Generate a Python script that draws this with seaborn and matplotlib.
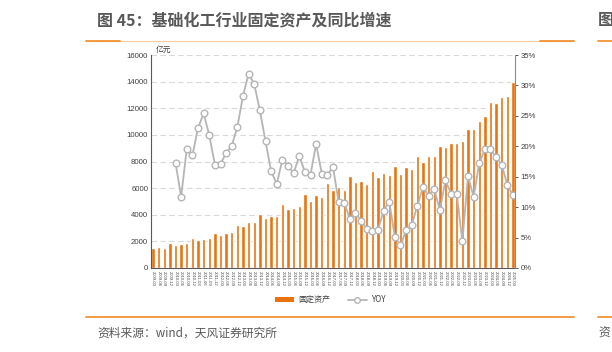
import matplotlib
matplotlib.use("Agg")
import numpy as np
import pandas as pd
import seaborn as sns
import matplotlib.pyplot as plt
from matplotlib.lines import Line2D
from matplotlib.patches import Patch

# ---------------- data ----------------
quarters = [f"{y}-{m:02d}" for y in range(2009, 2026) for m in (3, 6, 9, 12)][:65]

assets = [1475, 1575, 1525, 1900, 1700, 1775, 1850, 2275, 2075, 2200,
          2250, 2650, 2450, 2600, 2700, 3250, 3125, 3425, 3450, 4075,
          3775, 3925, 3925, 4775, 4400, 4525, 4675, 5575, 5050, 5475,
          5350, 6375, 5850, 6050, 5875, 6900, 6425, 6525, 6300, 7300,
          6825, 7100, 6975, 7625, 7025, 7550, 7450, 8400, 7950, 8400,
          8400, 9200, 9100, 9425, 9425, 9575, 10450, 10475, 11050, 11400,
          12500, 12375, 12875, 12925, 13950]

yoy = [np.nan, np.nan, np.nan, np.nan,
       17.3, 11.7, 19.6, 18.5, 23.0, 25.4, 21.8, 17.0, 17.1, 18.9,
       20.1, 23.2, 28.3, 31.9, 30.2, 25.9, 20.8, 15.9, 13.8, 17.8,
       16.8, 15.6, 18.4,
       15.8, 15.3, 20.4, 15.5, 15.3, 16.6, 10.8, 10.7, 8.1, 9.0,
       7.8, 6.4, 6.1, 6.3, 9.4, 10.9, 5.1, 3.7, 6.2, 7.1,
       10.2, 13.3, 11.9, 13.0, 9.5, 14.4, 12.2, 12.2, 4.4, 15.1,
       11.7, 17.2, 19.5, 19.5, 18.2, 17.0, 13.6, 12.0]

left_ticks = [0, 2000, 4000, 6000, 8000, 10000, 12000, 14000, 16000]
right_ticks = [0, 5, 10, 15, 20, 25, 30, 35]

title = "图 45：基础化工行业固定资产及同比增速"
source = "资料来源：wind，天风证券研究所"
unit = "亿元"
bar_label = "固定资产"
line_label = "YOY"

df = pd.DataFrame({"q": quarters, "pos": np.arange(len(quarters)),
                   "assets": assets, "yoy": yoy})

# ---------------- style ----------------
sns.set_theme(style="white")
plt.rcParams["font.family"] = ["Liberation Sans", "Noto Sans CJK SC", "DejaVu Sans"]

BAR = "#E8730F"
GREY_LINE = "#B5B5B5"
TXT = "#404040"
ORANGE = "#F08A24"

fig = plt.figure(figsize=(6.12, 3.52), dpi=100)
ax = fig.add_axes([151 / 612, 1 - 268 / 352, (515 - 151) / 612, (268 - 55) / 352])

sns.barplot(data=df, x="pos", y="assets", color=BAR, width=0.6,
            saturation=1, ax=ax, native_scale=True, label=bar_label)

ax2 = ax.twinx()
sns.lineplot(data=df, x="pos", y="yoy", ax=ax2, color=GREY_LINE, lw=1.3,
             marker="o", markersize=4.8, markerfacecolor="white",
             markeredgecolor=GREY_LINE, markeredgewidth=1.0, label=line_label)
if ax2.get_legend():
    ax2.get_legend().remove()
if ax.get_legend():
    ax.get_legend().remove()

ax.set_xlim(-0.36, len(quarters) - 1 + 0.36)
ax.set_ylim(0, 16000)
ax.set_yticks(left_ticks)
ax.set_yticklabels([str(t) for t in left_ticks])
ax2.set_ylim(0, 35)
ax2.set_yticks(right_ticks)
ax2.set_yticklabels([f"{t}%" for t in right_ticks])

ax.set_xticks(df["pos"])
ax.set_xticklabels(quarters, rotation=-90, fontsize=3.0, color=TXT)
ax.set_xlabel("")
ax.set_ylabel("")
ax2.set_xlabel("")
ax2.set_ylabel("")

ax.yaxis.grid(True, linestyle=(0, (5, 3)), color="#D9D9D9", lw=0.8)
ax.set_axisbelow(True)

for a in (ax, ax2):
    a.spines["top"].set_visible(False)
    a.tick_params(axis="y", labelsize=5.6, colors=TXT, length=2, width=0.6, pad=2)
ax.spines["left"].set_color("#595959")
ax.spines["bottom"].set_color("#595959")
ax.spines["right"].set_visible(False)
ax2.spines["left"].set_visible(False)
ax2.spines["bottom"].set_visible(False)
ax2.spines["right"].set_color("#8C8C8C")
for s in ("left", "bottom"):
    ax.spines[s].set_linewidth(0.8)
ax2.spines["right"].set_linewidth(0.8)
ax.tick_params(axis="x", length=1.5, width=0.5, pad=1, colors=TXT)
ax.tick_params(axis="y", length=0)

ax.text(0.012, 1.005, unit, transform=ax.transAxes, fontsize=5.6, color=TXT,
        family=["Noto Sans CJK SC", "DejaVu Sans"], va="bottom", ha="left")

# legend
handles = [Patch(facecolor=BAR, edgecolor="none"),
           Line2D([0], [0], color=GREY_LINE, lw=1.3, marker="o", markersize=4,
                  markerfacecolor="white", markeredgecolor=GREY_LINE)]
fig.legend(handles, [bar_label, line_label], loc="center",
           bbox_to_anchor=(330 / 612, 1 - 300 / 352), ncol=2, frameon=False,
           prop={"family": ["Noto Sans CJK SC", "DejaVu Sans"], "size": 5.8},
           handlelength=2.4, handleheight=0.5, columnspacing=2.2,
           handletextpad=0.5, labelcolor=TXT)

# title and decorations
fig.text(97 / 612, 1 - 20 / 352, title, fontsize=11.5, fontweight="bold",
         color="#595959", family=["Noto Sans CJK SC", "DejaVu Sans"],
         va="center", ha="left")
fig.text(97 / 612, 1 - 333 / 352, source, fontsize=8.5, color="#595959",
         family=["Noto Sans CJK SC", "DejaVu Sans"], va="center", ha="left")

def hline(x0, x1, y, color, lw):
    fig.add_artist(Line2D([x0 / 612, x1 / 612], [1 - y / 352, 1 - y / 352],
                          color=color, lw=lw, transform=fig.transFigure))

hline(86, 574, 41, "#F9C9A0", 0.8)
hline(86, 120, 41, ORANGE, 1.2)
hline(540, 574, 41, ORANGE, 1.2)
hline(598, 612, 41, ORANGE, 1.2)
hline(86, 574, 317, ORANGE, 1.2)
hline(598, 612, 317, ORANGE, 1.2)
fig.text(598 / 612, 1 - 20 / 352, "图", fontsize=11.5, fontweight="bold",
         color="#595959", family=["Noto Sans CJK SC", "DejaVu Sans"],
         va="center", ha="left")
fig.text(598 / 612, 1 - 333 / 352, "资", fontsize=8.5, color="#595959",
         family=["Noto Sans CJK SC", "DejaVu Sans"], va="center", ha="left")

fig.savefig("out.png", dpi=100)
